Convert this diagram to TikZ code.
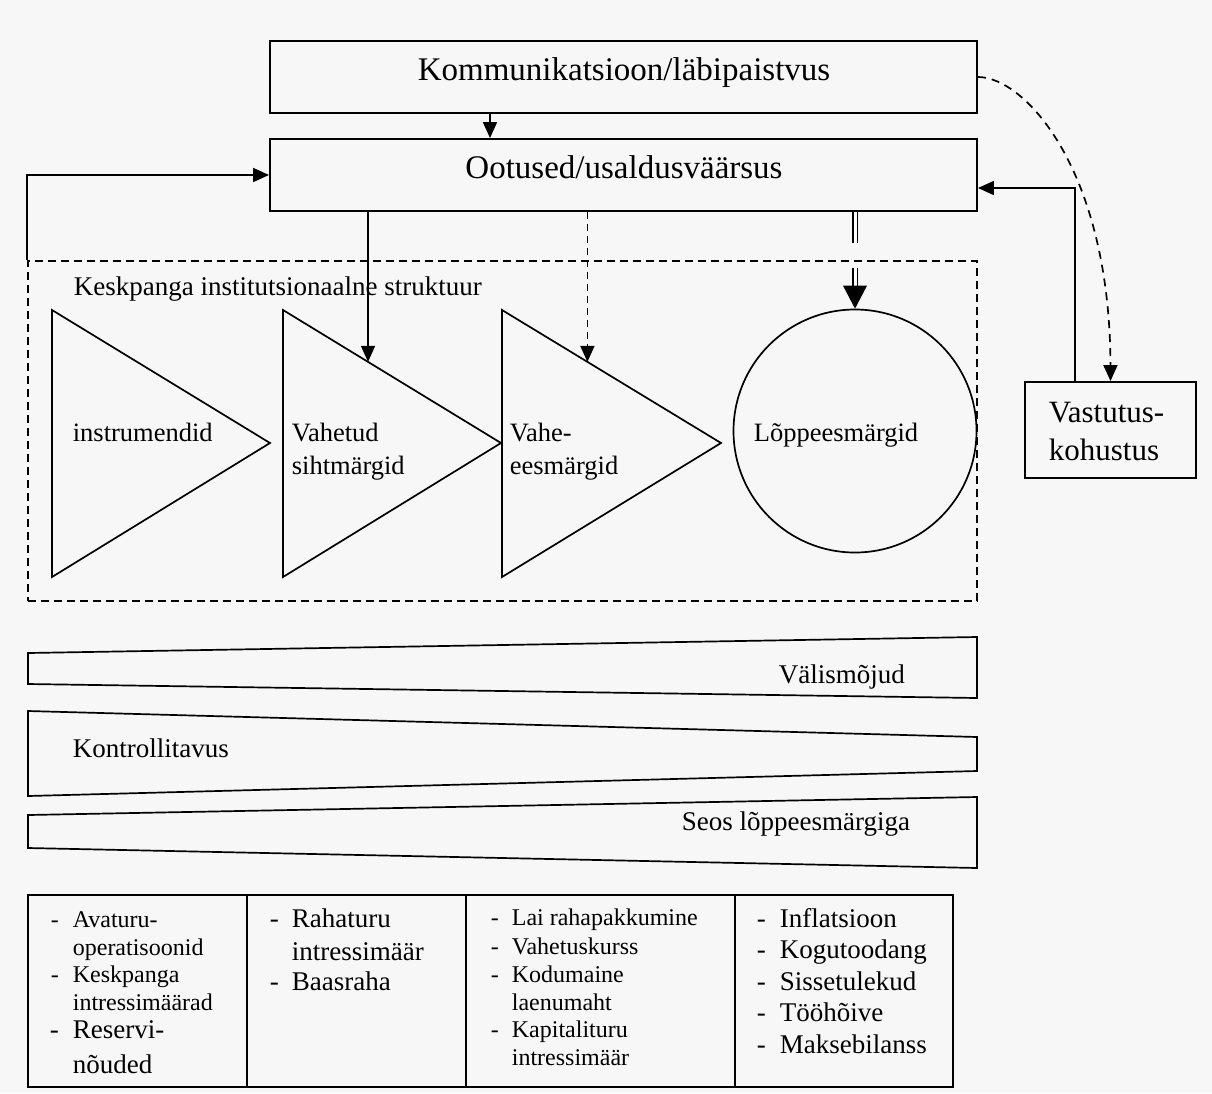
\documentclass[tikz,border=0pt]{standalone}
\usepackage{fontspec}
\setmainfont{Liberation Serif}
\usetikzlibrary{arrows.meta,calc}
\definecolor{bgc}{RGB}{247,247,247}
\begin{document}
\begin{tikzpicture}[x=1pt,y=-1pt,
  line width=1.7pt,
  box/.style={draw, rectangle, inner sep=0pt, line width=1.9pt},
  lbl/.style={inner sep=0pt, anchor=base west},
  arr/.style={-{Triangle[length=16pt,width=14pt]}},
  dsh/.style={dash pattern=on 8pt off 5pt},
  fbig/.style={font=\fontsize{33}{38}\selectfont},
  fvas/.style={font=\fontsize{31}{38}\selectfont},
  fmid/.style={font=\fontsize{26.5}{33}\selectfont},
  fsmall/.style={font=\fontsize{24}{28}\selectfont},
  fcol/.style={font=\fontsize{27}{32}\selectfont}]

% canvas
\path[fill=bgc] (0,0) rectangle (1212,1093);

% top boxes
\node[box, minimum width=707pt, minimum height=72pt] (K) at (623.5,77) {};
\node[lbl, fbig, anchor=base] (Kt) at (624,80) {Kommunikatsioon/läbipaistvus};
\node[box, minimum width=707pt, minimum height=72pt] (O) at (623.5,175) {};
\node[lbl, fbig, anchor=base] (Ot) at (624,178) {Ootused/usaldusväärsus};

% accountability box
\node[box, minimum width=171pt, minimum height=96pt] (V) at (1110.5,430) {};
\node[lbl, fvas] (Vt1) at (1048,422) {Vastutus-};
\node[lbl, fvas] (Vt2) at (1048,460) {kohustus};

% institutional frame
\node[draw, dsh, rectangle, inner sep=0pt, minimum width=949pt, minimum height=340pt] (frame) at (502.5,431) {};
\node[lbl, fcol] (ft) at (73,295) {Keskpanga institutsionaalne struktuur};

% instrument chain
\coordinate (t1nw) at (52,310);  \coordinate (t1e) at (270,443); \coordinate (t1sw) at (52,577);
\coordinate (t2nw) at (283,310); \coordinate (t2e) at (501,443); \coordinate (t2sw) at (283,577);
\coordinate (t3nw) at (502,310); \coordinate (t3e) at (721,443); \coordinate (t3sw) at (502,577);
\draw (t1nw) -- (t1e) -- (t1sw) -- cycle;
\draw (t2nw) -- (t2e) -- (t2sw) -- cycle;
\draw (t3nw) -- (t3e) -- (t3sw) -- cycle;
\node[draw, circle, inner sep=0pt, minimum size=243pt] (C) at (855,431) {};

\node[lbl, fmid] (l1) at (72,441) {instrumendid};
\node[lbl, fmid] (l2a) at (291,441) {Vahetud};
\node[lbl, fmid] (l2b) at (291,474) {sihtmärgid};
\node[lbl, fmid] (l3a) at (509,441) {Vahe-};
\node[lbl, fmid] (l3b) at (509,474) {eesmärgid};
\node[lbl, fmid] (l4) at (753,441) {Lõppeesmärgid};

% connectors
\coordinate (c1) at (490,0);
\draw[arr] (c1 |- K.south) -- (c1 |- O.north);
\draw[arr] (frame.north west) |- (O.west);

\coordinate (t2a) at ($(t2nw)!0.39!(t2e)$);
\coordinate (t3a) at ($(t3nw)!0.39!(t3e)$);
\draw[arr] (O.south -| t2a) -- (t2a);
\draw[arr, dash pattern=on 7pt off 5pt] (O.south -| t3a) -- (t3a);

\coordinate (g1) at (855,243);
\coordinate (g2) at (855,268);
\draw[double, double distance=3pt, line width=1.4pt] (O.south -| g1) -- (g1);
\draw[double, double distance=3pt, line width=1.4pt, shorten >=20pt] (g2) -- (C.north);
\fill (C.north) -- ++(-12,-23) -- ++(24,0) -- cycle;

\draw[arr, dash pattern=on 8pt off 6pt] (K.east) .. controls (1025,77) and (1110,170) .. (V.north);
\coordinate (jv) at (1075,188);
\draw[arr] (V.north -| jv) |- (O.east |- jv);

% tapering bands
\draw (28,653) -- (977,637) -- (977,698) -- (28,684) -- cycle;
\draw (28,711) -- (977,737) -- (977,771) -- (28,796) -- cycle;
\draw (28,815) -- (977,797) -- (977,868) -- (28,848) -- cycle;
\node[lbl, fcol] (b1) at (778,683) {Välismõjud};
\node[lbl, fcol] (b2) at (72,757) {Kontrollitavus};
\node[lbl, fcol] (b3) at (681,830) {Seos lõppeesmärgiga};

% indicator table
\draw[line width=1.9pt] (28,895) rectangle (953,1087);
\draw[line width=1.9pt] (247,895) -- (247,1087);
\draw[line width=1.9pt] (466,895) -- (466,1087);
\draw[line width=1.9pt] (735,895) -- (735,1087);

% column 1
\foreach \yy/\tt/\dd in {927/Avaturu-/1, 955/operatisoonid/0, 982/Keskpanga/1, 1010/intressimäärad/0}{
  \node[lbl, fsmall] at (72,\yy) {\tt};
  \ifnum\dd=1 \node[lbl, fsmall] at (50,\yy) {-};\fi
}
\node[lbl, fcol] at (72,1038) {Reservi-};
\node[lbl, fcol] at (49,1038) {-};
\node[lbl, fcol] at (72,1073) {nõuded};

% column 2
\foreach \yy/\tt/\dd in {927/Rahaturu/1, 960/intressimäär/0, 990/Baasraha/1}{
  \node[lbl, fcol] at (291,\yy) {\tt};
  \ifnum\dd=1 \node[lbl, fcol] at (269,\yy) {-};\fi
}

% column 3
\foreach \yy/\tt/\dd in {925/Lai rahapakkumine/1, 954/Vahetuskurss/1, 982/Kodumaine/1, 1010/laenumaht/0, 1037/Kapitalituru/1, 1065/intressimäär/0}{
  \node[lbl, fsmall] at (511,\yy) {\tt};
  \ifnum\dd=1 \node[lbl, fsmall] at (490,\yy) {-};\fi
}

% column 4
\foreach \yy/\tt in {927/Inflatsioon, 958.5/Kogutoodang, 990/Sissetulekud, 1021.5/Tööhõive, 1053/Maksebilanss}{
  \node[lbl, fcol] at (779,\yy) {\tt};
  \node[lbl, fcol] at (756,\yy) {-};
}
\end{tikzpicture}
\end{document}
